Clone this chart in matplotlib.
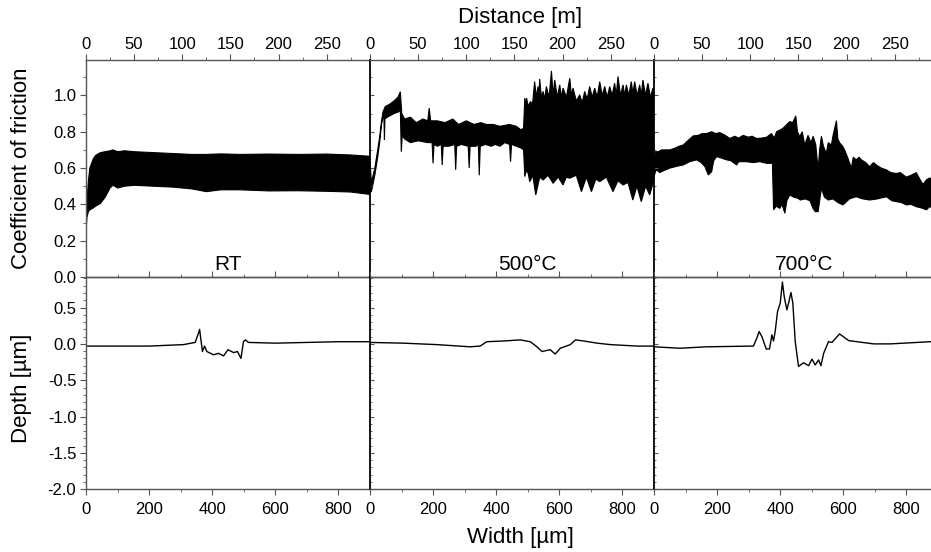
import numpy as np
import matplotlib
matplotlib.use("Agg")
import matplotlib.pyplot as plt
from matplotlib.ticker import MultipleLocator

plt.rcParams['font.family'] = ['Liberation Sans', 'DejaVu Sans']

# --- данные: огибающие коэффициента трения (distance [m], value) ---
rt_upper = [(0, 0.30), (1, 0.42), (2.5, 0.53), (4, 0.60), (7.5, 0.65), (10, 0.67), (15, 0.685),
            (20, 0.69), (25, 0.695), (28, 0.70), (33, 0.69), (40, 0.695), (50, 0.69), (70, 0.685),
            (90, 0.68), (110, 0.675), (125, 0.675), (140, 0.678), (160, 0.675), (190, 0.677),
            (220, 0.675), (250, 0.677), (275, 0.672), (294.5, 0.665)]
rt_lower = [(0, 0.25), (1, 0.33), (2.5, 0.36), (4, 0.37), (7.5, 0.38), (10, 0.39), (15, 0.405),
            (20, 0.44), (25, 0.49), (28, 0.505), (33, 0.49), (40, 0.50), (50, 0.505), (70, 0.50),
            (90, 0.495), (110, 0.485), (125, 0.47), (140, 0.48), (160, 0.48), (190, 0.474),
            (220, 0.475), (250, 0.472), (275, 0.468), (294.5, 0.455)]

c500_upper = [(0, 0.64), (1.5, 0.52), (5, 0.60), (8, 0.70), (10, 0.77), (12, 0.86), (13.5, 0.91),
              (16, 0.94), (20, 0.95), (25, 0.97), (29, 0.99), (31.5, 1.02), (33, 0.90), (36, 0.87),
              (42, 0.88), (48, 0.85), (55, 0.87), (60, 0.86), (61.5, 0.93), (63, 0.86), (70, 0.86),
              (78, 0.85), (86, 0.87), (92, 0.84), (100, 0.86), (108, 0.84), (115, 0.85), (121, 0.84),
              (128, 0.84), (135, 0.83), (145, 0.84), (152, 0.83), (157, 0.81), (159.5, 0.82),
              (160.8, 0.985), (161.8, 0.95), (162.6, 0.985), (164.5, 0.94), (166.7, 0.967),
              (168.8, 0.95), (171, 1.076), (172.8, 0.99), (174.5, 1.049), (175.5, 1.0),
              (176.3, 1.091), (178, 0.99), (179.8, 1.022), (181.5, 0.98), (183.2, 1.049),
              (186, 0.99), (188.5, 1.135), (190.2, 1.0), (191.9, 1.085), (194.5, 0.99),
              (197.1, 1.058), (198.8, 0.99), (200.5, 1.04), (204, 0.99), (207.5, 1.095),
              (209.2, 1.0), (210.9, 1.04), (214.3, 0.97), (217.8, 1.003), (220.4, 0.96),
              (223, 1.022), (225.6, 0.98), (228.2, 1.049), (230.8, 0.99), (233.4, 1.04),
              (236, 0.99), (238.6, 1.076), (241.2, 1.0), (243.8, 1.049), (246.4, 0.99),
              (249, 1.049), (251.5, 1.0), (254.1, 1.067), (255.8, 1.0), (257.6, 1.104),
              (260.2, 1.0), (262.8, 1.058), (264.5, 1.0), (266.3, 1.058), (268.8, 1.0),
              (271.4, 1.076), (273.1, 1.01), (274.9, 1.076), (277.5, 1.0), (280.1, 1.058),
              (281.8, 1.0), (283.5, 1.085), (286.1, 1.0), (288.7, 1.067), (291.3, 0.99),
              (293.9, 1.04), (294.5, 0.98)]
c500_lower = [(0, 0.47), (1.5, 0.47), (5, 0.56), (8, 0.66), (10, 0.74), (12, 0.84), (13.5, 0.88),
              (14.5, 0.87), (15, 0.755), (15.5, 0.87), (18, 0.88), (25, 0.90), (30, 0.91), (31.5, 0.92),
              (32.5, 0.69), (33.5, 0.78), (36, 0.76), (42, 0.74), (50, 0.75), (60, 0.74), (64.5, 0.74),
              (65.5, 0.626), (66.5, 0.73), (70, 0.72), (74, 0.73), (75, 0.617), (76, 0.72), (82, 0.72),
              (88, 0.73), (89, 0.59), (90, 0.72), (95, 0.73), (102, 0.72), (103, 0.60), (104, 0.72),
              (110, 0.72), (112.5, 0.73), (113.5, 0.56), (114.5, 0.72), (120, 0.73), (126, 0.72),
              (130, 0.73), (135, 0.72), (140, 0.74), (145, 0.73), (146, 0.635), (147, 0.73),
              (152, 0.72), (157, 0.71), (159.5, 0.70), (160.8, 0.553), (162.6, 0.59), (164.3, 0.57),
              (166, 0.525), (169, 0.56), (172.2, 0.452), (176.3, 0.55), (179.8, 0.534), (185, 0.56),
              (190.2, 0.516), (195.4, 0.55), (200.5, 0.507), (204, 0.55), (207.5, 0.544),
              (214.3, 0.56), (219.6, 0.47), (224.8, 0.55), (230, 0.47), (234.6, 0.54),
              (238.6, 0.525), (245.5, 0.55), (252.4, 0.47), (257.6, 0.53), (262.8, 0.507),
              (268, 0.52), (273, 0.424), (277.3, 0.50), (281.8, 0.415), (286.3, 0.50),
              (290.5, 0.452), (294.5, 0.525)]

c700_upper = [(0, 0.64), (1.5, 0.69), (4.5, 0.69), (8, 0.70), (12, 0.70), (16.6, 0.70), (22, 0.71),
              (26, 0.72), (30.4, 0.727), (35, 0.75), (40.8, 0.777), (46, 0.78), (50, 0.79),
              (54.7, 0.79), (60, 0.80), (64, 0.79), (68.5, 0.795), (74, 0.78), (78.8, 0.763),
              (84, 0.775), (88, 0.765), (92.6, 0.78), (98, 0.77), (102, 0.775), (106.5, 0.763),
              (112, 0.765), (117, 0.77), (122, 0.79), (125, 0.765), (127.3, 0.80), (131, 0.81),
              (134.2, 0.82), (138, 0.84), (141, 0.856), (144, 0.85), (147.3, 0.887), (149, 0.80),
              (151.4, 0.773), (154, 0.80), (156.6, 0.727), (160, 0.78), (163, 0.74), (165.3, 0.775),
              (168, 0.73), (170.5, 0.59), (172, 0.70), (173.9, 0.775), (176, 0.72), (179, 0.68),
              (181, 0.74), (184.3, 0.727), (186, 0.78), (189.5, 0.861), (191, 0.76), (193, 0.738),
              (196, 0.72), (198, 0.70), (201, 0.66), (205, 0.60), (207, 0.66), (210, 0.645),
              (213, 0.66), (215.5, 0.645), (220, 0.63), (224, 0.608), (228, 0.63), (231, 0.617),
              (236, 0.60), (241.4, 0.59), (246, 0.575), (251.7, 0.57), (256, 0.575), (262, 0.55),
              (267, 0.56), (272.5, 0.575), (276, 0.54), (279.4, 0.51), (283, 0.535), (286.3, 0.545),
              (290, 0.54), (295, 0.53)]
c700_lower = [(0, 0.55), (1.5, 0.58), (2.8, 0.59), (6, 0.575), (12, 0.59), (16.6, 0.60), (24, 0.61),
              (30.4, 0.617), (37, 0.635), (44.3, 0.645), (49, 0.63), (52.9, 0.608), (56.4, 0.562),
              (59.9, 0.58), (62, 0.64), (65, 0.663), (70, 0.655), (75.4, 0.645), (80, 0.64),
              (85.8, 0.617), (88, 0.635), (96, 0.635), (103, 0.63), (110, 0.635), (117, 0.626),
              (123, 0.626), (124.2, 0.37), (127, 0.39), (130.7, 0.378), (133, 0.40), (135.9, 0.351),
              (138, 0.42), (141, 0.452), (145, 0.44), (149.7, 0.433), (152, 0.424), (157, 0.43),
              (162, 0.42), (165, 0.38), (167.4, 0.36), (170.5, 0.36), (173.9, 0.489), (177, 0.44),
              (181, 0.424), (186, 0.43), (191, 0.41), (196.4, 0.397), (203, 0.43), (210, 0.442),
              (217, 0.43), (224, 0.424), (232, 0.43), (241.4, 0.442), (247, 0.42), (251.7, 0.415),
              (257, 0.41), (262, 0.397), (267, 0.40), (272.5, 0.387), (278, 0.38), (283, 0.37),
              (286.3, 0.387), (290, 0.38), (295, 0.38)]

# --- профили износа (width [um], depth [um]) ---
rt_profile = [(0, -0.03), (100, -0.03), (200, -0.03), (309, -0.01), (346, 0.02), (356.6, 0.15),
              (360, 0.20), (365, 0.03), (369, -0.105), (375.6, -0.03), (383, -0.105), (404, -0.15),
              (420, -0.13), (436, -0.165), (450, -0.08), (467.7, -0.12), (480, -0.105), (491, -0.20),
              (499, 0.03), (504.8, 0.055), (515, 0.02), (600, 0.01), (700, 0.02), (800, 0.03),
              (900, 0.03)]
c500_profile = [(0, 0.02), (106, 0.01), (212, -0.01), (317, -0.04), (349, -0.03), (370, 0.03),
                (423, 0.04), (476, 0.055), (508, 0.03), (529, -0.04), (545, -0.105), (571, -0.08),
                (587, -0.14), (603, -0.06), (635, -0.01), (651, 0.055), (677, 0.04), (720, 0.01),
                (762, -0.01), (847, -0.03), (900, -0.03)]
c700_profile = [(0, -0.04), (82.5, -0.06), (167, -0.04), (315, -0.03), (326, 0.08), (333, 0.17),
                (342, 0.10), (355.6, -0.07), (366, -0.07), (373.5, 0.124), (378.7, 0.04), (384, 0.17),
                (391.5, 0.445), (400, 0.56), (407, 0.85), (412.7, 0.65), (421, 0.468), (426.5, 0.56),
                (434, 0.707), (440, 0.56), (447.6, 0.03), (458, -0.31), (474, -0.26), (490, -0.30),
                (500.6, -0.21), (511, -0.29), (521.6, -0.22), (529, -0.30), (537.6, -0.13), (553, 0.03),
                (564, 0.02), (588, 0.137), (617, 0.045), (696, 0.0), (749, 0.0), (876, 0.03),
                (900, 0.03)]

labels = ['RT', '500°C', '700°C']
label_x = [0.5, 0.555, 0.53]
cof_data = [(rt_upper, rt_lower), (c500_upper, c500_lower), (c700_upper, c700_lower)]
profiles = [rt_profile, c500_profile, c700_profile]

fig = plt.figure(figsize=(9.31, 5.52), dpi=100)

W = 284 / 931
lefts = [86 / 931, 370 / 931, 654 / 931]
top_b, top_h = 1 - 277 / 552, 217 / 552
bot_b, bot_h = 1 - 489.3 / 552, 212.3 / 552
spine_c = '#555555'

for i in range(3):
    ax_t = fig.add_axes([lefts[i], top_b, W, top_h])
    ax_b = fig.add_axes([lefts[i], bot_b, W, bot_h])

    up, lo = cof_data[i]
    xu, yu = zip(*up)
    xl, yl = zip(*lo)
    xs = np.concatenate([xu, xl[::-1]])
    ys = np.concatenate([yu, yl[::-1]])
    ax_t.fill(xs, ys, color='k', lw=0.8, ec='k')

    px, py = zip(*profiles[i])
    ax_b.plot(px, py, color='k', lw=1.0)

    ax_t.set_xlim(0, 295)
    ax_t.set_ylim(0, 1.195)
    ax_b.set_xlim(0, 900)
    ax_b.set_ylim(-2.0, 0.92)

    # верхняя ось: дистанция
    ax_t.xaxis.set_ticks_position('top')
    ax_t.xaxis.set_minor_locator(MultipleLocator(25))
    ax_t.set_xticks(range(0, 251, 50))
    ax_t.tick_params(axis='x', which='both', direction='out', labelsize=12, pad=1.5,
                     color=spine_c, labeltop=True, labelbottom=False)
    ax_t.tick_params(axis='x', which='major', length=4)
    ax_t.tick_params(axis='x', which='minor', length=2.5)
    ax_t.yaxis.set_minor_locator(MultipleLocator(0.1))
    ax_t.set_yticks(np.arange(0, 1.01, 0.2))

    # нижняя ось: ширина дорожки
    ax_b.xaxis.set_minor_locator(MultipleLocator(100))
    ax_b.set_xticks(range(0, 801, 200))
    ax_b.tick_params(axis='x', which='both', direction='out', labelsize=12, pad=5,
                     color=spine_c, top=True, labeltop=False)
    ax_b.tick_params(axis='x', which='major', length=4)
    ax_b.tick_params(axis='x', which='minor', length=2.5)
    ax_b.yaxis.set_minor_locator(MultipleLocator(0.1))
    ax_b.set_yticks(np.arange(-2.0, 0.51, 0.5))

    for ax in (ax_t, ax_b):
        ax.spines['right'].set_visible(False)
        for s in ('top', 'bottom', 'left'):
            ax.spines[s].set_color(spine_c)
            ax.spines[s].set_linewidth(1.0)
        if i == 0:
            ax.tick_params(axis='y', which='both', direction='out', labelsize=12, pad=3,
                           color=spine_c)
            ax.tick_params(axis='y', which='major', length=4)
            ax.tick_params(axis='y', which='minor', length=2.5)
        else:
            ax.spines['left'].set_color('k')
            ax.spines['left'].set_linewidth(1.3)
            ax.tick_params(axis='y', which='both', direction='in', labelleft=False,
                           color=spine_c)
            ax.tick_params(axis='y', which='major', length=3)
            ax.tick_params(axis='y', which='minor', length=1.5)
        ax.set_facecolor('none')

    ax_t.text(label_x[i], 0.012, labels[i], transform=ax_t.transAxes, ha='center',
              va='bottom', fontsize=15)

fig.axes[0].set_yticklabels([f'{v:.1f}' for v in np.arange(0, 1.01, 0.2)])
fig.axes[1].set_yticklabels([f'{v:.1f}' for v in np.arange(-2.0, 0.51, 0.5)])

fig.text(22 / 931, 1 - 168.5 / 552, 'Coefficient of friction', rotation=90, ha='center',
         va='center', fontsize=16)
fig.text(22 / 931, 1 - 388 / 552, 'Depth [µm]', rotation=90, ha='center', va='center',
         fontsize=16)
fig.text(520 / 931, 1 - 17 / 552, 'Distance [m]', ha='center', va='center', fontsize=16)
fig.text(520 / 931, 1 - 538 / 552, 'Width [µm]', ha='center', va='center', fontsize=16)

fig.savefig('out.png', dpi=100)
